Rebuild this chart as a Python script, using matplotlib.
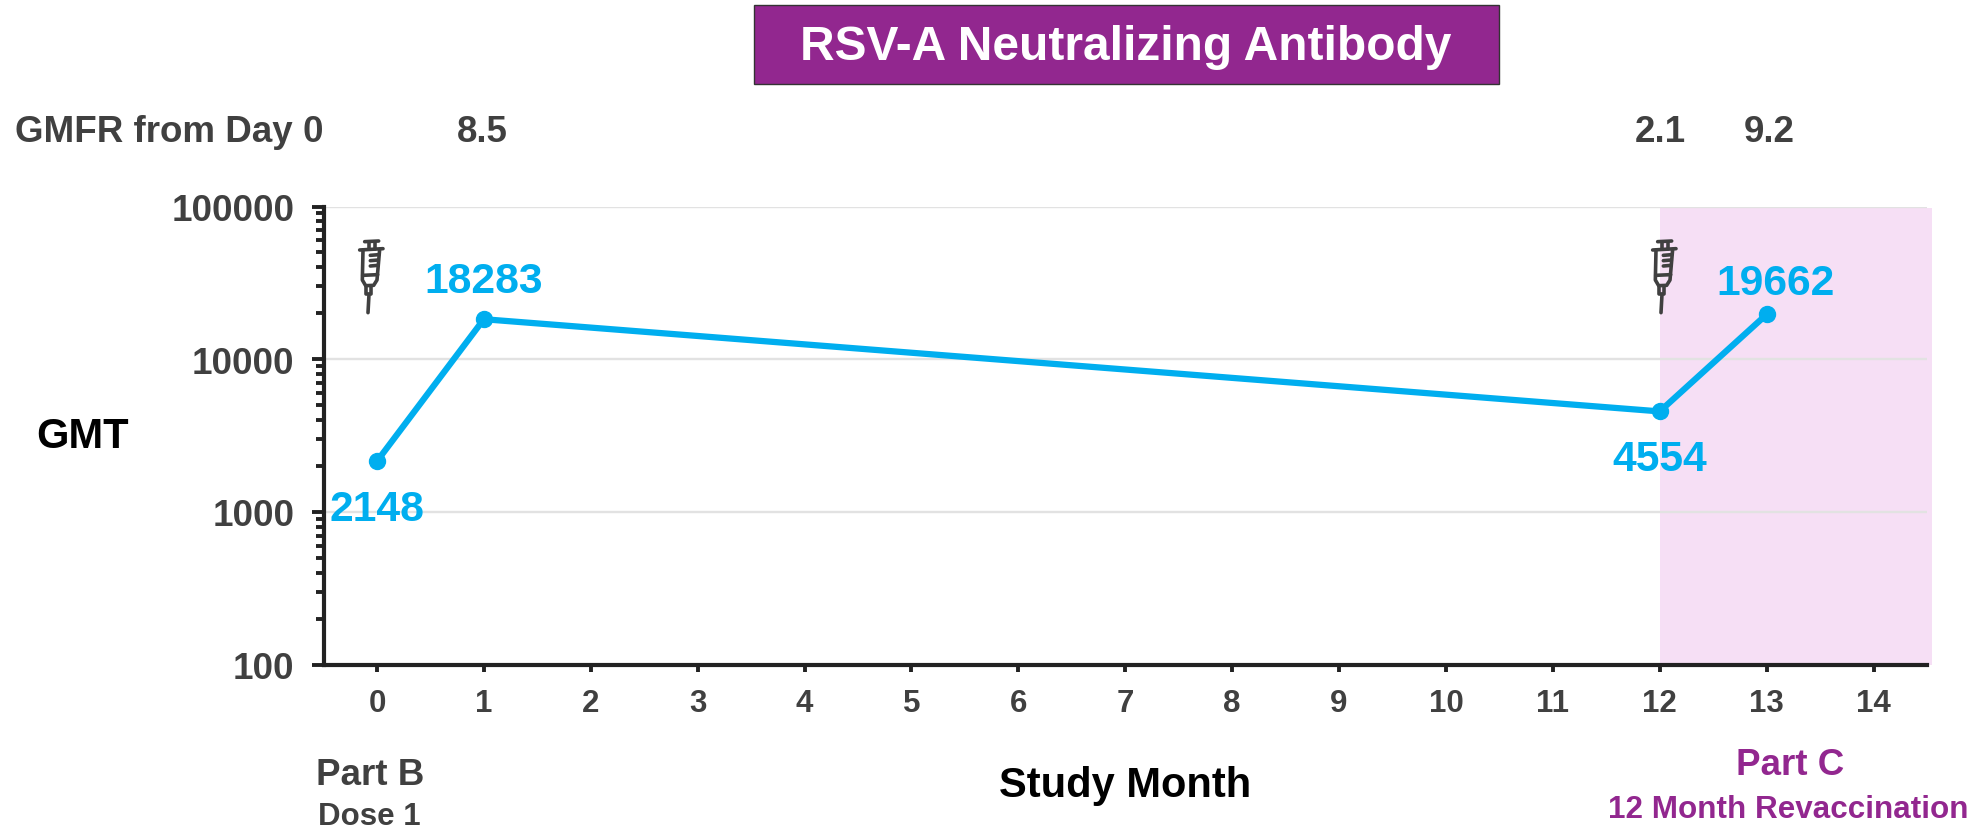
import matplotlib
matplotlib.use("Agg")
import matplotlib.pyplot as plt
from matplotlib.lines import Line2D
from matplotlib.patches import Rectangle

plt.rcParams["font.family"] = ["Liberation Sans", "DejaVu Sans"]
plt.rcParams["font.weight"] = "bold"

W, H = 1967, 829

months = [0, 1, 12, 13]
gmt = [2148, 18283, 4554, 19662]
gmt_labels = ["2148", "18283", "4554", "19662"]
x_ticks = list(range(15))
y_ticks = [100, 1000, 10000, 100000]
y_tick_labels = ["100", "1000", "10000", "100000"]
gmfr_labels = ["8.5", "2.1", "9.2"]

BLUE = "#00AEEF"
PURPLE = "#92278F"
PINK = "#F6DFF5"
GREY = "#404040"


def fx(x):
    return x / W


def fy(y):
    return 1 - y / H


def put(x, y, s, size, color=GREY, ha="center"):
    fig.text(fx(x), fy(y), s, fontsize=size, color=color, ha=ha, va="center", fontweight="bold")


# syringe icon, offsets are in zoomed pixels
syringe_parts = [
    [(195, 157), (237, 155)],
    [(207, 157), (207, 178)],
    [(225, 157), (225, 178)],
    [(180, 182), (250, 178)],
    [(190, 182), (188, 272), (198, 289), (222, 288), (232, 272), (240, 180)],
    [(189, 258), (234, 256)],
    [(212, 198), (237, 196)],
    [(212, 214), (236, 212)],
    [(212, 230), (235, 228)],
    [(198, 290), (198, 315), (215, 315), (215, 289)],
    [(208, 315), (205, 370)],
]


def syringe(cx, cy):
    for part in syringe_parts:
        xs = [fx(cx + (p[0] - 205) / 3) for p in part]
        ys = [fy(cy + (p[1] - 155) / 3) for p in part]
        fig.add_artist(Line2D(xs, ys, color=GREY, lw=2.6, solid_capstyle="round", zorder=5))


fig = plt.figure(figsize=(W / 100, H / 100), dpi=100)
ax = fig.add_axes([fx(323.5), fy(665.7), (1927 - 323.5) / W, (665.7 - 207.5) / H])

ax.set_yscale("log")
ax.set_xlim(-0.5, 14.5)
ax.set_ylim(100, 100000)

ax.axvspan(12, 14.55, ymax=0.997, color=PINK, lw=0, zorder=0, clip_on=False)
ax.grid(axis="y", which="major", color="#E2E2E2", lw=1.7, zorder=1)
ax.set_axisbelow(True)

ax.plot(months, gmt, color=BLUE, lw=4.5, marker="o", ms=11.5, zorder=3, clip_on=False)

ax.set_xticks(x_ticks)
ax.set_yticks(y_ticks)
ax.set_yticklabels(y_tick_labels)
ax.tick_params(axis="x", which="major", length=5, width=2.8, color="#222222", labelsize=22.5, labelcolor=GREY, pad=12)
ax.tick_params(axis="y", which="major", length=9, width=2.8, color="#222222", labelsize=26.5, labelcolor=GREY, pad=12)
ax.tick_params(axis="y", which="minor", length=6, width=2.8, color="#222222", labelleft=False)

for side in ["top", "right"]:
    ax.spines[side].set_visible(False)
for side in ["left", "bottom"]:
    ax.spines[side].set_linewidth(3)
    ax.spines[side].set_color("#222222")

# title box
fig.add_artist(Rectangle((fx(754), fy(85)), 745 / W, 79 / H, transform=fig.transFigure,
                         facecolor=PURPLE, edgecolor="#333333", lw=1))
put(1126, 48, "RSV-A Neutralizing Antibody", 34.5, "white")

put(169, 132, "GMFR from Day 0", 26.5)
for px, s in zip([482, 1660, 1769], gmfr_labels):
    put(px, 132, s, 26.5)

label_pos = [(377, 510), (484, 282), (1660, 460), (1776, 284)]
for (px, py), s in zip(label_pos, gmt_labels):
    put(px, py, s, 30.7, BLUE)

put(83, 437, "GMT", 30, "black")
put(1125, 786, "Study Month", 30, "black")
put(370, 776, "Part B", 26.5)
put(369, 817, "Dose 1", 22.5)
put(1790, 766, "Part C", 26.5, PURPLE)
put(1608, 810, "12 Month Revaccination", 22.6, PURPLE, ha="left")

syringe(368, 242)
syringe(1661, 242)

fig.savefig("out.png", dpi=100)
